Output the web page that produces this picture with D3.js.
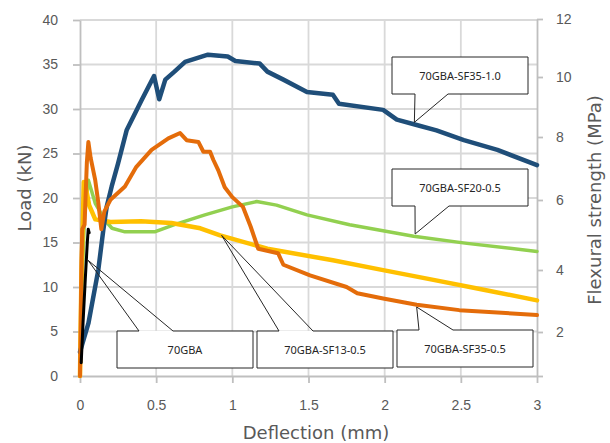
<!DOCTYPE html>
<html>
<head>
<meta charset="utf-8">
<script src="https://cdn.jsdelivr.net/npm/d3@7"></script>
<style>
  body { margin: 0; background: #fff; }
  svg { display: block; font-family: "Noto Sans", "DejaVu Sans", sans-serif; }
</style>
</head>
<body>
<div id="chart"></div>
<script>
// ---- data (deflection mm, load kN) ----
var deflTicks = [0, 0.5, 1, 1.5, 2, 2.5, 3];
var loadTicks = [0, 5, 10, 15, 20, 25, 30, 35, 40];
var strengthTicks = [0, 2, 4, 6, 8, 10, 12];

var gba = [[0.008, 1.5], [0.02, 6], [0.035, 11], [0.048, 15], [0.054, 16.5], [0.06, 16.1]];

var sf13 = [[0, 0], [0.004, 5], [0.01, 12], [0.018, 17], [0.025, 21.8], [0.035, 21.5],
    [0.06, 19.2], [0.1, 17.6], [0.2, 17.3], [0.4, 17.4], [0.6, 17.2], [0.79, 16.6],
    [0.92, 15.8], [1.23, 14.3], [1.66, 13.0], [1.99, 11.9], [2.32, 10.8], [2.65, 9.7], [3.0, 8.5]];

var sf20 = [[0, 0], [0.012, 10], [0.03, 18], [0.055, 22], [0.1, 19.4], [0.164, 17.5],
    [0.21, 16.6], [0.295, 16.2], [0.49, 16.2], [0.62, 17.0], [0.82, 18.1], [1.0, 19.0],
    [1.16, 19.6], [1.29, 19.2], [1.49, 18.1], [1.77, 17.0], [2.19, 15.7], [2.54, 14.9], [3.0, 14.0]];

var sf35_05 = [[0, 0], [0.005, 6], [0.01, 13], [0.015, 16.5], [0.03, 17], [0.045, 24],
    [0.055, 26.3], [0.07, 24.5], [0.1, 22], [0.12, 19.5], [0.14, 16.5], [0.16, 18.5],
    [0.2, 19.8], [0.295, 21.3], [0.37, 23.5], [0.47, 25.4], [0.58, 26.7], [0.657, 27.3],
    [0.70, 26.5], [0.777, 26.3], [0.81, 25.2], [0.854, 25.2], [0.875, 24.3], [0.908, 23.1],
    [0.95, 21.2], [1.0, 20.1], [1.07, 19.0], [1.12, 16.8], [1.17, 14.3], [1.30, 13.8],
    [1.335, 12.5], [1.51, 11.3], [1.75, 10.0], [1.82, 9.3], [1.99, 8.7], [2.21, 8.0],
    [2.49, 7.4], [3.0, 6.85]];

var sf35_10 = [[0, 2.7], [0.055, 5.9], [0.12, 11.9], [0.153, 16.4], [0.175, 19], [0.208, 21.3],
    [0.25, 23.9], [0.306, 27.6], [0.405, 31], [0.486, 33.7], [0.52, 31.1], [0.56, 33.3], [0.62, 34.2],
    [0.69, 35.3], [0.84, 36.1], [0.97, 35.9], [1.02, 35.4], [1.18, 35.1], [1.23, 34.2],
    [1.335, 33.3], [1.49, 31.9], [1.66, 31.6], [1.70, 30.6], [1.99, 29.9], [2.08, 28.8],
    [2.21, 28.2], [2.34, 27.6], [2.52, 26.5], [2.74, 25.4], [3.0, 23.7]];

// callout labels and the curve point each one points at
var calloutNames = ["70GBA", "70GBA-SF13-0.5", "70GBA-SF35-0.5", "70GBA-SF20-0.5", "70GBA-SF35-1.0"];
var calloutDefl = [0.053, 0.93, 2.21, 2.2, 2.195];
var calloutLoad = [13.0, 15.8, 7.75, 15.96, 28.5];

// ---- layout ----
var width = 610, height = 443;
var plot = {left: 80, right: 537, top: 20, bottom: 376};
var gridColor = "#d9d9d9", textColor = "#595959";

var x = d3.scaleLinear().domain([0, 3]).range([plot.left, plot.right]);
var y = d3.scaleLinear().domain([0, 40]).range([plot.bottom, plot.top]);
// the secondary axis in the picture is not evenly spaced, so follow its ticks
var y2 = d3.scaleLinear().domain(strengthTicks).range([376, 332, 270, 200, 137, 77, 19]);

var svg = d3.select("#chart").append("svg")
    .attr("width", width).attr("height", height);

// gridlines
svg.append("g").selectAll("line").data(loadTicks.slice(1)).enter().append("line")
    .attr("x1", plot.left).attr("x2", plot.right)
    .attr("y1", y).attr("y2", y)
    .attr("stroke", gridColor).attr("stroke-width", 1.8);
svg.append("g").selectAll("line").data(deflTicks.slice(1, -1)).enter().append("line")
    .attr("x1", x).attr("x2", x)
    .attr("y1", plot.top).attr("y2", plot.bottom)
    .attr("stroke", gridColor).attr("stroke-width", 1.8);

function styleAxis(g) {
    g.select(".domain").attr("stroke", "#bfbfbf").attr("stroke-width", 1.8);
    g.selectAll(".tick line").attr("stroke", "#bfbfbf").attr("stroke-width", 1.8);
    g.selectAll(".tick text").attr("fill", textColor).style("font-size", "14px");
}

svg.append("g")
    .attr("transform", "translate(" + plot.left + ",0)")
    .call(d3.axisLeft(y).tickValues(loadTicks).tickSize(7).tickPadding(15).tickSizeOuter(0))
    .call(styleAxis);

svg.append("g")
    .attr("transform", "translate(" + plot.right + ",0)")
    .call(d3.axisRight(y2).tickValues(strengthTicks).tickSize(6).tickPadding(13).tickSizeOuter(0)
        .tickFormat(function(d) { return d === 0 ? "" : d; }))
    .call(styleAxis);

svg.append("g")
    .attr("transform", "translate(0," + plot.bottom + ")")
    .call(d3.axisBottom(x).tickValues(deflTicks).tickSize(7).tickPadding(17).tickSizeOuter(0)
        .tickFormat(d3.format("")))
    .call(styleAxis);

// axis titles
var titleFont = '"DejaVu Sans", sans-serif';
svg.append("text")
    .attr("transform", "translate(31,188) rotate(-90)")
    .attr("text-anchor", "middle").attr("fill", textColor)
    .style("font-family", titleFont).style("font-size", "18px").text("Load (kN)");
svg.append("text")
    .attr("transform", "translate(601,200) rotate(-90)")
    .attr("text-anchor", "middle").attr("fill", textColor)
    .style("font-family", titleFont).style("font-size", "18px").text("Flexural strength (MPa)");
svg.append("text")
    .attr("x", 316).attr("y", 439)
    .attr("text-anchor", "middle").attr("fill", textColor)
    .style("font-family", titleFont).style("font-size", "18px").text("Deflection (mm)");

// curves
var line = d3.line()
    .x(function(d) { return x(d[0]); })
    .y(function(d) { return y(d[1]); });

var series = [
    {data: sf20, color: "#92d050", w: 3.5},
    {data: sf13, color: "#ffc000", w: 4.5},
    {data: sf35_10, color: "#1f4e79", w: 4.5},
    {data: sf35_05, color: "#e46c0a", w: 4},
    {data: gba, color: "#000000", w: 3}
];

svg.append("g").selectAll("path").data(series).enter().append("path")
    .attr("d", function(s) { return line(s.data); })
    .attr("fill", "none")
    .attr("stroke", function(s) { return s.color; })
    .attr("stroke-width", function(s) { return s.w; })
    .attr("stroke-linejoin", "round")
    .attr("stroke-linecap", "round");

// callouts: box position plus the two points where the pointer leaves the box
var boxes = [
    {bx: 117, by: 331, p1: 22, p2: 56, edge: "top"},
    {bx: 257, by: 331, p1: 22, p2: 56, edge: "top"},
    {bx: 397, by: 330, p1: 22, p2: 56, edge: "top"},
    {bx: 392, by: 169, p1: 23, p2: 57, edge: "bottom"},
    {bx: 392, by: 57, p1: 23, p2: 56, edge: "bottom"}
];
var boxW = 136, boxH = 37;

var callouts = svg.append("g").selectAll("g").data(calloutNames).enter().append("g");

callouts.each(function(name, i) {
    var b = boxes[i],
        g = d3.select(this),
        tx = x(calloutDefl[i]),
        ty = y(calloutLoad[i]),
        ey = b.edge === "top" ? b.by : b.by + boxH,
        oy = b.edge === "top" ? b.by + boxH : b.by,
        path;

    g.append("rect")
        .attr("x", b.bx).attr("y", b.by)
        .attr("width", boxW).attr("height", boxH)
        .attr("fill", "#fff");

    path = "M" + (b.bx + b.p1) + "," + ey + "L" + b.bx + "," + ey
        + "L" + b.bx + "," + oy + "L" + (b.bx + boxW) + "," + oy
        + "L" + (b.bx + boxW) + "," + ey + "L" + (b.bx + b.p2) + "," + ey
        + "L" + tx + "," + ty + "L" + (b.bx + b.p1) + "," + ey;

    g.append("path")
        .attr("d", path)
        .attr("fill", "none")
        .attr("stroke", "#262626")
        .attr("stroke-width", 1);

    g.append("text")
        .attr("x", b.bx + boxW / 2)
        .attr("y", b.by + boxH / 2 + 4)
        .attr("text-anchor", "middle")
        .attr("fill", "#262626")
        .style("font-size", "11px")
        .text(name);
});
</script>
</body>
</html>
